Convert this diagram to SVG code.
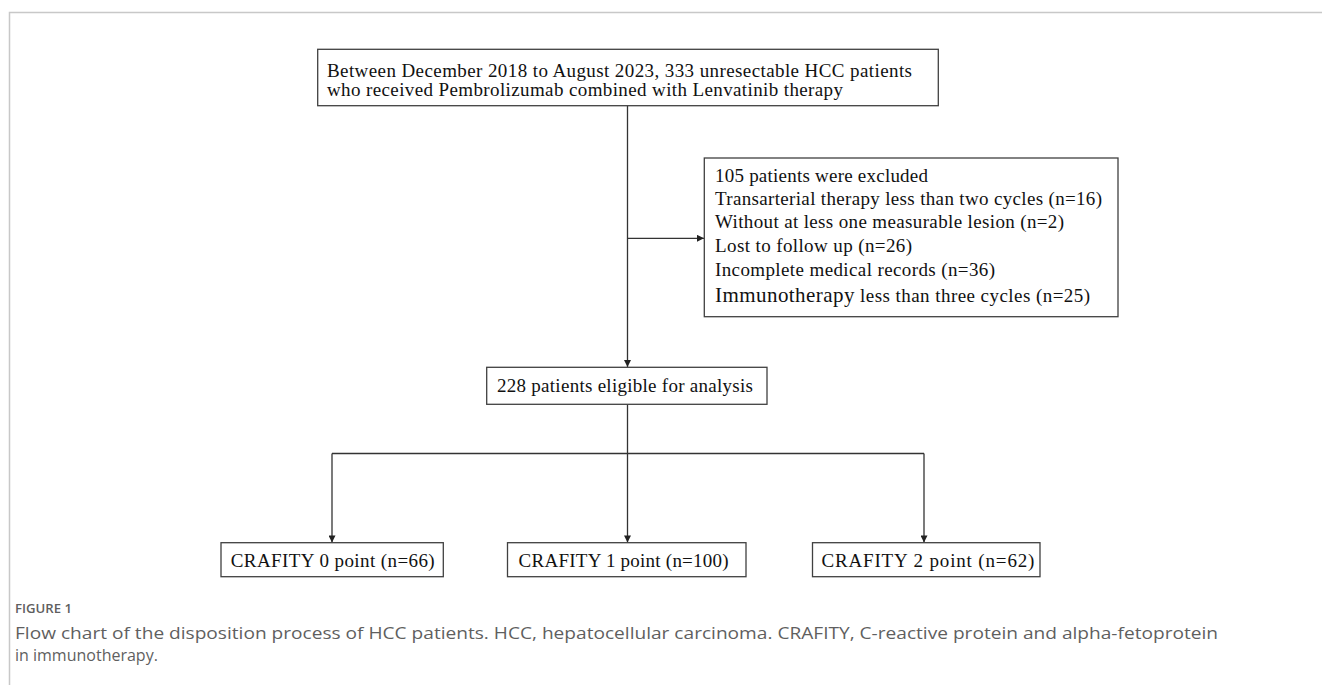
<svg xmlns="http://www.w3.org/2000/svg" width="1322" height="685" viewBox="0 0 1322 685">
<style>
.frame{fill:none;stroke:#c8c8c8;stroke-width:1.5}
.box{fill:#fff;stroke:#404040;stroke-width:1.3}
.t{font-family:"Liberation Serif","Times New Roman",serif;font-size:19px;fill:#111}
.big{font-size:21px}
.con{fill:none;stroke:#333;stroke-width:1.3}
.cap{font-family:"Open Sans","Liberation Sans",sans-serif;fill:#5f5f5f}
</style>
<defs>
<marker id="arr" viewBox="0 0 10 10" refX="10" refY="5" markerWidth="8" markerHeight="7" markerUnits="userSpaceOnUse" orient="auto">
<path d="M0,0 L10,5 L0,10 Z" fill="#222"/>
</marker>
</defs>
<rect width="1322" height="685" fill="#fff"/>
<path class="frame" d="M9.5,685 V12.5 H1322"/>
<g id="connectors">
<path class="con" d="M627.5,105.7 V367" marker-end="url(#arr)"/>
<path class="con" d="M627.5,238.3 H704" marker-end="url(#arr)"/>
<path class="con" d="M627.5,404.3 V542.5" marker-end="url(#arr)"/>
<path class="con" d="M332,453.5 H924" />
<path class="con" d="M332,453.5 V542.5" marker-end="url(#arr)"/>
<path class="con" d="M924,453.5 V542.5" marker-end="url(#arr)"/>
</g>
<g id="node-start">
<rect class="box" x="317.7" y="49.3" width="620.6" height="56.4"/>
<text class="t" x="327" y="76.5" textLength="585" lengthAdjust="spacing">Between December 2018 to August 2023, 333 unresectable HCC patients</text>
<text class="t" x="327" y="96" textLength="516" lengthAdjust="spacing">who received Pembrolizumab combined with Lenvatinib therapy</text>
</g>
<g id="node-excluded">
<rect class="box" x="704.3" y="158" width="413.7" height="158.7"/>
<text class="t" x="715" y="182" textLength="213" lengthAdjust="spacing">105 patients were excluded</text>
<text class="t" x="715" y="205" textLength="387" lengthAdjust="spacing">Transarterial therapy less than two cycles (n=16)</text>
<text class="t" x="715" y="228" textLength="349" lengthAdjust="spacing">Without at less one measurable lesion (n=2)</text>
<text class="t" x="715" y="252" textLength="197" lengthAdjust="spacing">Lost to follow up (n=26)</text>
<text class="t" x="715" y="276" textLength="280" lengthAdjust="spacing">Incomplete medical records (n=36)</text>
<text class="t" x="715" y="302" textLength="375" lengthAdjust="spacing"><tspan class="big">Immunotherapy</tspan> less than three cycles (n=25)</text>
</g>
<g id="node-eligible">
<rect class="box" x="486.7" y="367.3" width="280.3" height="37"/>
<text class="t" x="497" y="391.5" textLength="256" lengthAdjust="spacing">228 patients eligible for analysis</text>
</g>
<g id="node-c0">
<rect class="box" x="221" y="542.7" width="222.3" height="34"/>
<text class="t" x="230.7" y="566.5" textLength="204" lengthAdjust="spacing">CRAFITY 0 point (n=66)</text>
</g>
<g id="node-c1">
<rect class="box" x="507.5" y="542.7" width="238.5" height="34"/>
<text class="t" x="518.6" y="566.5" textLength="210" lengthAdjust="spacing">CRAFITY 1 point (n=100)</text>
</g>
<g id="node-c2">
<rect class="box" x="812.5" y="542.7" width="227.5" height="34"/>
<text class="t" x="821.4" y="566.5" textLength="213" lengthAdjust="spacing">CRAFITY 2 point (n=62)</text>
</g>
<g id="caption">
<text class="cap" x="15" y="613" font-size="12" font-weight="600" textLength="57" lengthAdjust="spacingAndGlyphs">FIGURE 1</text>
<text class="cap" x="15" y="639" font-size="16" textLength="1203" lengthAdjust="spacingAndGlyphs">Flow chart of the disposition process of HCC patients. HCC, hepatocellular carcinoma. CRAFITY, C-reactive protein and alpha-fetoprotein</text>
<text class="cap" x="15" y="661" font-size="16">in immunotherapy.</text>
</g>
</svg>
